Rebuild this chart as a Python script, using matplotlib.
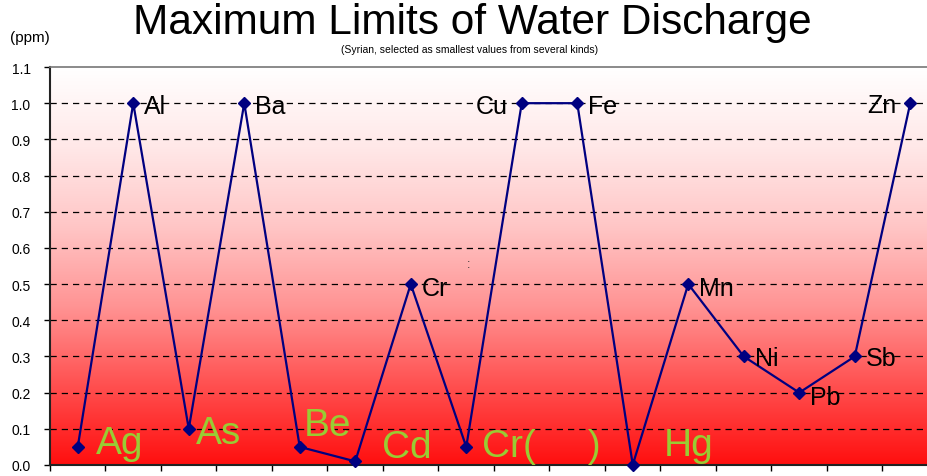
import numpy as np
import matplotlib
matplotlib.use("Agg")
import matplotlib.pyplot as plt
from matplotlib.colors import LinearSegmentedColormap

plt.rcParams['font.family'] = ['Liberation Sans', 'DejaVu Sans']

# ---------------------------------------------------------
# Data
# ---------------------------------------------------------
elements = ['Ag', 'Al', 'As', 'Ba', 'Be', 'Cd', 'Cr', 'Cr(\u2003\u2004)',
            'Cu', 'Fe', 'Hg', 'Mn', 'Ni', 'Pb', 'Sb', 'Zn']
limits = [0.05, 1.0, 0.1, 1.0, 0.05, 0.01, 0.5, 0.05,
          1.0, 1.0, 0.0005, 0.5, 0.3, 0.2, 0.3, 1.0]
# low-limit elements drawn with large green labels
highlight = ['Ag', 'As', 'Be', 'Cd', 'Cr(\u2003\u2004)', 'Hg']

# label offsets in points (dx, dy, ha)
offsets = {
    'Ag': (13, 3, 'left'), 'Al': (8, -2, 'left'), 'As': (5, -3, 'left'),
    'Ba': (8, -2, 'left'), 'Be': (3, 16, 'left'), 'Cd': (19, 10, 'left'),
    'Cr': (8, -3, 'left'), 'Cr(\u2003\u2004)': (11, 1, 'left'),
    'Cu': (-10, -2, 'right'), 'Fe': (8, -2, 'left'), 'Hg': (22, 14, 'left'),
    'Mn': (8, -3, 'left'), 'Ni': (8, -1, 'left'), 'Pb': (8, -3, 'left'),
    'Sb': (8, -1, 'left'), 'Zn': (-10, -1, 'right'),
}

# ---------------------------------------------------------
# Figure
# ---------------------------------------------------------
fig = plt.figure(figsize=(9.28, 4.77), dpi=100)
ax = fig.add_axes([50 / 928, 11 / 477, 888 / 928, 398 / 477])

x = np.arange(len(elements))
ax.set_xlim(-0.5, len(elements) - 0.5)
ax.set_ylim(0, 1.1)

# background gradient white -> red
cmap = LinearSegmentedColormap.from_list(
    'wr', [(0.0, '#ff0f0f'), (0.2, '#ff5050'), (0.4, '#ff9494'),
           (0.6, '#ffc6c6'), (0.8, '#ffe8e8'), (1.0, '#ffffff')])
grad = np.linspace(0, 1, 256).reshape(-1, 1)
ax.imshow(grad, extent=[-0.5, len(elements) - 0.5, 0, 1.1], origin='lower',
          aspect='auto', cmap=cmap, zorder=0)

for yv in np.arange(0.1, 1.05, 0.1):
    ax.axhline(yv, color='black', linestyle=(0, (5, 4)), linewidth=0.9, zorder=1)

ax.plot(x, limits, color='#000080', linewidth=1.6, marker='D', markersize=6,
        zorder=3, clip_on=False)

for xi, name, val in zip(x, elements, limits):
    dx, dy, ha = offsets[name]
    if name in highlight:
        ax.annotate(name, (xi, val), xytext=(dx, dy), textcoords='offset points',
                    ha=ha, va='center', fontsize=28, color='#99cc33', zorder=4)
    else:
        ax.annotate(name, (xi, val), xytext=(dx, dy), textcoords='offset points',
                    ha=ha, va='center', fontsize=18, color='black', zorder=4)

ax.text(7.05, 0.555, ':', fontsize=9, color='#333333', ha='center', va='center')

# axes styling
ax.set_yticks(np.round(np.arange(0, 1.11, 0.1), 1))
ax.set_yticklabels([f'{v:.1f}' for v in np.arange(0, 1.11, 0.1)], fontsize=10)
ax.set_xticks(np.arange(-0.5, len(elements), 1))
ax.set_xticklabels([])
ax.tick_params(axis='both', direction='out', length=4, width=1, color='black')
ax.tick_params(axis='y', pad=10)
for side in ['left', 'bottom']:
    ax.spines[side].set_color('#222222')
    ax.spines[side].set_linewidth(1.5)
ax.spines['top'].set_color('#777777')
ax.spines['top'].set_linewidth(1.2)
ax.spines['right'].set_visible(False)

fig.text(472 / 928, 1 - 23 / 477, 'Maximum Limits of Water Discharge',
         ha='center', va='center', fontsize=30.5)
fig.text(470 / 928, 1 - 50 / 477,
         '(Syrian, selected as smallest values from several kinds)',
         ha='center', va='center', fontsize=7.5)
fig.text(10 / 928, 1 - 38 / 477, '(ppm)', ha='left', va='center', fontsize=11)

plt.savefig('out.png', dpi=100)
